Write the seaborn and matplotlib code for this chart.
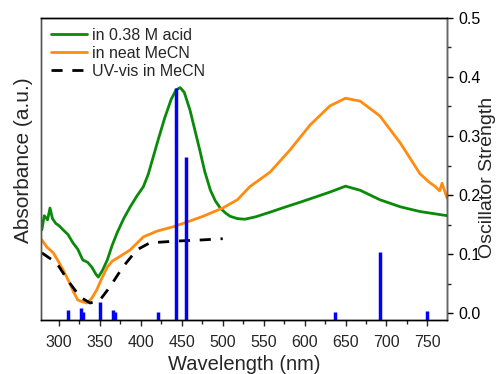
import matplotlib
matplotlib.use("Agg")
import matplotlib.pyplot as plt
from matplotlib.ticker import MultipleLocator, FormatStrFormatter
import numpy as np
import pandas as pd
import seaborn as sns

# absorbance traces (arbitrary units)
acid_nm = [279, 282, 286, 289, 292, 296, 300, 305, 311, 317, 323, 329, 335, 340, 345, 348,
           353, 359, 365, 371, 379, 387, 395, 403, 409, 415, 421, 429, 437, 443, 448, 453,
           460, 466, 472, 478, 485, 491, 497, 503, 509, 518, 527, 540, 558, 575, 595, 612,
           631, 650, 668, 692, 717, 741, 760, 774]
acid_abs = [0.141, 0.165, 0.158, 0.178, 0.160, 0.152, 0.148, 0.141, 0.133, 0.119, 0.108, 0.090,
            0.086, 0.078, 0.066, 0.061, 0.072, 0.090, 0.115, 0.136, 0.160, 0.180, 0.198, 0.214,
            0.235, 0.264, 0.293, 0.330, 0.362, 0.378, 0.382, 0.374, 0.344, 0.310, 0.276, 0.240,
            0.208, 0.190, 0.178, 0.170, 0.164, 0.160, 0.159, 0.163, 0.171, 0.179, 0.188, 0.196,
            0.205, 0.215, 0.208, 0.192, 0.180, 0.172, 0.168, 0.165]

mecn_nm = [279, 285, 293, 299, 305, 313, 318, 323, 329, 334, 340, 346, 352, 359, 365, 371,
           379, 387, 395, 403, 420, 439, 456, 476, 500, 518, 533, 558, 582, 607, 631, 650,
           668, 692, 717, 741, 752, 760, 765, 768, 774]
mecn_abs = [0.124, 0.112, 0.102, 0.088, 0.073, 0.051, 0.035, 0.022, 0.019, 0.017, 0.025, 0.039,
            0.058, 0.078, 0.088, 0.093, 0.100, 0.107, 0.118, 0.129, 0.139, 0.146, 0.154, 0.164,
            0.178, 0.192, 0.214, 0.239, 0.276, 0.319, 0.351, 0.364, 0.359, 0.334, 0.288, 0.236,
            0.222, 0.214, 0.207, 0.220, 0.195]

uvvis_nm = [279, 297, 313, 326, 338, 350, 362, 378, 395, 411, 444, 476, 500]
uvvis_abs = [0.102, 0.085, 0.051, 0.027, 0.017, 0.022, 0.044, 0.078, 0.107, 0.119, 0.122, 0.124, 0.126]

# calculated transitions
osc_nm = [310.6, 326.8, 328.9, 350.0, 366.0, 368.7, 421.0, 442.7, 454.9, 636.6, 692.3, 749.0]
osc_f = [0.006, 0.008, 0.001, 0.019, 0.005, 0.002, 0.002, 0.381, 0.264, 0.001, 0.104, 0.004]

labels = ["in 0.38 M acid", "in neat MeCN", "UV-vis in MeCN"]

sns.set_style("white")
plt.rcParams['font.family'] = ['Liberation Sans', 'DejaVu Sans']

fig = plt.figure(figsize=(5, 3.74), dpi=100)
ax = fig.add_axes([0.082, 0.144, 0.812, 0.808])

ylo, yhi = -0.012, 0.5

sns.lineplot(x=acid_nm, y=acid_abs, ax=ax, color='#0a8a0a', lw=2.0, label=labels[0])
sns.lineplot(x=mecn_nm, y=mecn_abs, ax=ax, color='#ff8c10', lw=2.0, label=labels[1])
sns.lineplot(x=uvvis_nm, y=uvvis_abs, ax=ax, color='black', lw=2.0, label=labels[2])
ax.lines[2].set_dashes((4, 3.5))

ax.set_xlim(278, 774)
ax.set_ylim(ylo, yhi)
ax.set_yticks([])
ax.xaxis.set_major_locator(MultipleLocator(50))
ax.xaxis.set_minor_locator(MultipleLocator(25))
ax.tick_params(axis='x', which='major', direction='out', length=4, width=1, labelsize=11.5,
               bottom=True, pad=7)
ax.tick_params(axis='x', which='minor', direction='out', length=3, width=1, bottom=True)
ax.set_xlabel("Wavelength (nm)", fontsize=14.5, labelpad=3)
ax.set_ylabel("Absorbance (a.u.)", fontsize=15)
ax.yaxis.set_label_coords(-0.02, 0.53)

leg = ax.legend(loc='upper left', frameon=False, fontsize=11.5, handlelength=2.3,
                labelspacing=0.2, handletextpad=0.3, borderaxespad=0.2)

ax2 = ax.twinx()
ax2.vlines(osc_nm, ylo, osc_f, color='#0000ff', lw=2.5)
ax2.set_ylim(ylo, yhi)
ax2.yaxis.set_major_locator(MultipleLocator(0.1))
ax2.yaxis.set_minor_locator(MultipleLocator(0.05))
ax2.yaxis.set_major_formatter(FormatStrFormatter('%.1f'))
ax2.tick_params(axis='y', which='major', direction='out', length=4, width=1, labelsize=11.5,
                right=True, colors='black', pad=4)
ax2.tick_params(axis='y', which='minor', direction='out', length=3, width=1, right=True)
ax2.set_ylabel("Oscillator Strength", fontsize=14)
ax2.yaxis.set_label_coords(1.078, 0.472)

for a in (ax, ax2):
    for s in a.spines.values():
        s.set_color('black')
        s.set_linewidth(1)
ax.spines['left'].set_color('#555555')
ax2.spines['right'].set_color('#666666')
ax2.spines['left'].set_color('#555555')

fig.savefig("out.png", dpi=100)
